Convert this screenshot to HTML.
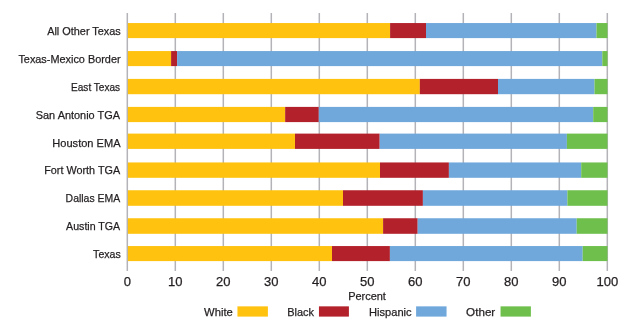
<!DOCTYPE html>
<html><head><meta charset="utf-8"><style>
html,body{margin:0;padding:0;background:#fff;}
body{width:635px;height:325px;overflow:hidden;}
svg{display:block;will-change:transform;}
text{font-family:"Liberation Sans",sans-serif;fill:#231F20;stroke:#231F20;stroke-width:0.25px;}
</style></head><body>
<svg width="635" height="325" viewBox="0 0 635 325" shape-rendering="geometricPrecision">
<rect x="0" y="0" width="635" height="325" fill="#fff"/>

<rect x="126.55" y="13" width="1.50" height="258" fill="#B4B4B8"/>
<rect x="174.55" y="13" width="1.50" height="258" fill="#B4B4B8"/>
<rect x="222.55" y="13" width="1.50" height="258" fill="#B4B4B8"/>
<rect x="270.55" y="13" width="1.50" height="258" fill="#B4B4B8"/>
<rect x="318.55" y="13" width="1.50" height="258" fill="#B4B4B8"/>
<rect x="366.55" y="13" width="1.50" height="258" fill="#B4B4B8"/>
<rect x="414.55" y="13" width="1.50" height="258" fill="#B4B4B8"/>
<rect x="462.55" y="13" width="1.50" height="258" fill="#B4B4B8"/>
<rect x="510.55" y="13" width="1.50" height="258" fill="#B4B4B8"/>
<rect x="558.55" y="13" width="1.50" height="258" fill="#B4B4B8"/>
<rect x="606.55" y="13" width="1.50" height="258" fill="#B4B4B8"/>
<rect x="127.90" y="23.05" width="262.20" height="15.05" fill="#FFC20E"/>
<rect x="390.10" y="23.05" width="35.90" height="15.05" fill="#B3212B"/>
<rect x="426.00" y="23.05" width="170.50" height="15.05" fill="#70A8DC"/>
<rect x="596.50" y="23.05" width="11.00" height="15.05" fill="#6FBF4C"/>
<text id="l0" x="120.84" y="34.60" font-size="11.80" text-anchor="end" textLength="73.70" lengthAdjust="spacingAndGlyphs">All Other Texas</text>
<rect x="127.90" y="51.06" width="43.20" height="15.04" fill="#FFC20E"/>
<rect x="171.10" y="51.06" width="6.00" height="15.04" fill="#B3212B"/>
<rect x="177.10" y="51.06" width="425.20" height="15.04" fill="#70A8DC"/>
<rect x="602.30" y="51.06" width="5.20" height="15.04" fill="#6FBF4C"/>
<text id="l1" x="120.60" y="62.70" font-size="11.80" text-anchor="end" textLength="102.20" lengthAdjust="spacingAndGlyphs">Texas-Mexico Border</text>
<rect x="127.90" y="78.90" width="291.90" height="15.30" fill="#FFC20E"/>
<rect x="419.80" y="78.90" width="78.20" height="15.30" fill="#B3212B"/>
<rect x="498.00" y="78.90" width="96.50" height="15.30" fill="#70A8DC"/>
<rect x="594.50" y="78.90" width="13.00" height="15.30" fill="#6FBF4C"/>
<text id="l2" x="120.17" y="90.90" font-size="11.80" text-anchor="end" textLength="49.15" lengthAdjust="spacingAndGlyphs">East Texas</text>
<rect x="127.90" y="106.90" width="157.25" height="15.20" fill="#FFC20E"/>
<rect x="285.15" y="106.90" width="33.65" height="15.20" fill="#B3212B"/>
<rect x="318.80" y="106.90" width="274.40" height="15.20" fill="#70A8DC"/>
<rect x="593.20" y="106.90" width="14.30" height="15.20" fill="#6FBF4C"/>
<text id="l3" x="119.98" y="118.70" font-size="11.80" text-anchor="end" textLength="84.20" lengthAdjust="spacingAndGlyphs">San Antonio TGA</text>
<rect x="127.90" y="133.60" width="167.10" height="15.30" fill="#FFC20E"/>
<rect x="295.00" y="133.60" width="84.70" height="15.30" fill="#B3212B"/>
<rect x="379.70" y="133.60" width="187.20" height="15.30" fill="#70A8DC"/>
<rect x="566.90" y="133.60" width="40.60" height="15.30" fill="#6FBF4C"/>
<text id="l4" x="120.57" y="146.55" font-size="11.80" text-anchor="end" textLength="68.26" lengthAdjust="spacingAndGlyphs">Houston EMA</text>
<rect x="127.90" y="162.45" width="252.10" height="15.35" fill="#FFC20E"/>
<rect x="380.00" y="162.45" width="68.90" height="15.35" fill="#B3212B"/>
<rect x="448.90" y="162.45" width="132.30" height="15.35" fill="#70A8DC"/>
<rect x="581.20" y="162.45" width="26.30" height="15.35" fill="#6FBF4C"/>
<text id="l5" x="120.11" y="174.00" font-size="11.80" text-anchor="end" textLength="75.85" lengthAdjust="spacingAndGlyphs">Fort Worth TGA</text>
<rect x="127.90" y="190.25" width="215.10" height="15.55" fill="#FFC20E"/>
<rect x="343.00" y="190.25" width="79.90" height="15.55" fill="#B3212B"/>
<rect x="422.90" y="190.25" width="144.50" height="15.55" fill="#70A8DC"/>
<rect x="567.40" y="190.25" width="40.10" height="15.55" fill="#6FBF4C"/>
<text id="l6" x="120.22" y="202.10" font-size="11.80" text-anchor="end" textLength="54.61" lengthAdjust="spacingAndGlyphs">Dallas EMA</text>
<rect x="127.90" y="218.25" width="255.20" height="15.55" fill="#FFC20E"/>
<rect x="383.10" y="218.25" width="34.60" height="15.55" fill="#B3212B"/>
<rect x="417.70" y="218.25" width="159.00" height="15.55" fill="#70A8DC"/>
<rect x="576.70" y="218.25" width="30.80" height="15.55" fill="#6FBF4C"/>
<text id="l7" x="120.22" y="229.80" font-size="11.80" text-anchor="end" textLength="54.14" lengthAdjust="spacingAndGlyphs">Austin TGA</text>
<rect x="127.90" y="246.05" width="204.10" height="15.05" fill="#FFC20E"/>
<rect x="332.00" y="246.05" width="57.90" height="15.05" fill="#B3212B"/>
<rect x="389.90" y="246.05" width="192.80" height="15.05" fill="#70A8DC"/>
<rect x="582.70" y="246.05" width="24.80" height="15.05" fill="#6FBF4C"/>
<text id="l8" x="120.75" y="257.85" font-size="11.80" text-anchor="end" textLength="27.64" lengthAdjust="spacingAndGlyphs">Texas</text>
<text id="n0" x="127.30" y="286.40" font-size="13.00" text-anchor="middle">0</text>
<text id="n1" x="175.30" y="286.40" font-size="13.00" text-anchor="middle">10</text>
<text id="n2" x="223.30" y="286.40" font-size="13.00" text-anchor="middle">20</text>
<text id="n3" x="271.30" y="286.40" font-size="13.00" text-anchor="middle">30</text>
<text id="n4" x="319.30" y="286.40" font-size="13.00" text-anchor="middle">40</text>
<text id="n5" x="367.30" y="286.40" font-size="13.00" text-anchor="middle">50</text>
<text id="n6" x="415.30" y="286.40" font-size="13.00" text-anchor="middle">60</text>
<text id="n7" x="463.30" y="286.40" font-size="13.00" text-anchor="middle">70</text>
<text id="n8" x="511.30" y="286.40" font-size="13.00" text-anchor="middle">80</text>
<text id="n9" x="559.30" y="286.40" font-size="13.00" text-anchor="middle">90</text>
<text id="n10" x="607.30" y="286.40" font-size="13.00" text-anchor="middle">100</text>
<text id="pct" x="367.02" y="299.70" font-size="11.80" text-anchor="middle" textLength="37.77" lengthAdjust="spacingAndGlyphs">Percent</text>
<text id="g0" x="232.80" y="315.80" font-size="11.80" text-anchor="end" textLength="28.71" lengthAdjust="spacingAndGlyphs">White</text>
<rect x="237.45" y="306.35" width="30.45" height="10.25" fill="#FFC20E"/>
<text id="g1" x="314.03" y="315.80" font-size="11.80" text-anchor="end" textLength="26.81" lengthAdjust="spacingAndGlyphs">Black</text>
<rect x="318.95" y="306.35" width="29.95" height="10.25" fill="#B3212B"/>
<text id="g2" x="411.63" y="315.80" font-size="11.80" text-anchor="end" textLength="42.60" lengthAdjust="spacingAndGlyphs">Hispanic</text>
<rect x="416.10" y="306.35" width="30.45" height="10.25" fill="#70A8DC"/>
<text id="g3" x="495.26" y="315.80" font-size="11.80" text-anchor="end" textLength="29.14" lengthAdjust="spacingAndGlyphs">Other</text>
<rect x="500.55" y="306.35" width="30.35" height="10.25" fill="#6FBF4C"/>
</svg></body></html>
